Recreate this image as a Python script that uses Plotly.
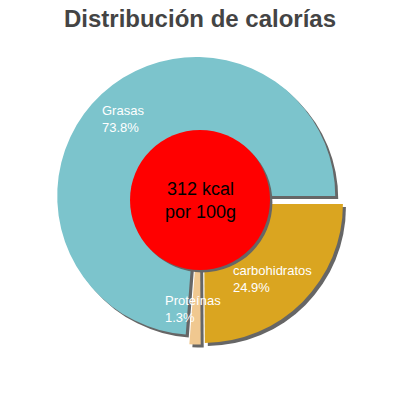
import plotly.graph_objects as go

# slice data (order = clockwise from 3 o'clock)
labels = ["carbohidratos", "Proteínas", "Grasas"]
values = [24.9, 1.3, 73.8]
colors = ["#daa520", "#f0c890", "#7cc4cc"]
energy = "312 kcal"
per = "por 100g"

# where the slice labels go: left x, centre y of the two-line block (pixels from top-left)
label_pos = {"Grasas": (102, 119), "carbohidratos": (233, 279), "Proteínas": (165, 309)}

pull = [0.04] * len(values)
half = 0.3614
sh = 0.0075  # shadow offset

fig = go.Figure()

# grey shadow underneath
fig.add_trace(go.Pie(
    labels=labels, values=values, sort=False, direction="clockwise", rotation=90,
    pull=pull, textinfo="none", hoverinfo="skip", showlegend=False,
    marker=dict(colors=["#666666"] * len(values), line=dict(width=0)),
    domain=dict(x=[0.5 - half + sh, 0.5 + half + sh], y=[0.5 - half - sh, 0.5 + half - sh]),
))

fig.add_trace(go.Pie(
    labels=labels, values=values, sort=False, direction="clockwise", rotation=90,
    pull=pull, textinfo="none", showlegend=False,
    marker=dict(colors=colors, line=dict(width=0)),
    domain=dict(x=[0.5 - half, 0.5 + half], y=[0.5 - half, 0.5 + half]),
))

lab_font = dict(family="Liberation Sans, Arial", size=13, color="white")
for lab, val in zip(labels, values):
    px, py = label_pos[lab]
    fig.add_annotation(
        x=(px - 1) / 400, y=1 - py / 400, xref="paper", yref="paper",
        xanchor="left", yanchor="middle", align="left", text=f"{lab}<br>{val}%",
        showarrow=False, font=lab_font, borderpad=0,
    )

# red centre disc with shadow
r = 70 / 400
fig.add_shape(type="circle", xref="paper", yref="paper", layer="above",
              x0=0.5 - r + 0.006, x1=0.5 + r + 0.006, y0=0.5 - r - 0.006, y1=0.5 + r - 0.006,
              fillcolor="#666666", line=dict(width=0))
fig.add_shape(type="circle", xref="paper", yref="paper", layer="above",
              x0=0.5 - r, x1=0.5 + r, y0=0.5 - r, y1=0.5 + r,
              fillcolor="#ff0000", line=dict(width=0))
fig.add_annotation(
    x=0.5, y=0.5, xref="paper", yref="paper", showarrow=False,
    text=f"{energy}<br>{per}",
    font=dict(family="Liberation Sans, Arial", size=18, color="black"),
)

fig.update_layout(
    width=400, height=400,
    margin=dict(l=0, r=0, t=0, b=0),
    paper_bgcolor="white", plot_bgcolor="white",
    title=dict(text="<b>Distribución de calorías</b>", x=0.5, xanchor="center",
               y=1 - 19 / 400, yanchor="middle", yref="container",
               font=dict(family="Liberation Sans, Arial", size=24, color="#444444")),
)

# the page body has an 8px default margin; drop it so the figure sits at 0,0
fig.write_html("out.html", config={"displayModeBar": False},
               post_script="document.body.style.margin='0';")
